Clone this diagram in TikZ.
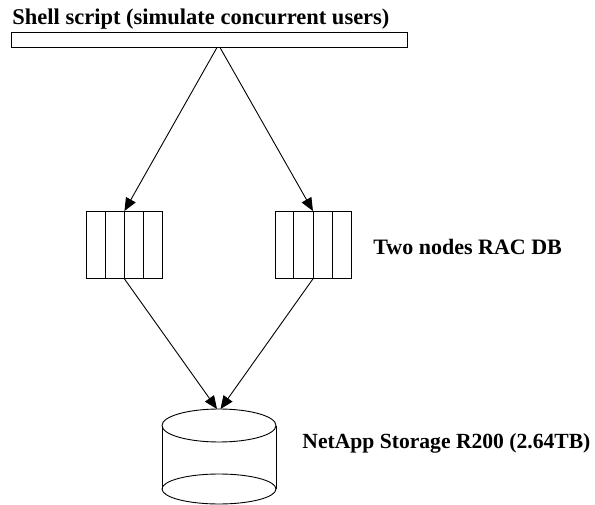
\documentclass[tikz,border=0pt]{standalone}
\usepackage{fontspec}
\setmainfont{Liberation Serif}
\usetikzlibrary{arrows.meta,calc}
\begin{document}
\begin{tikzpicture}[x=1pt,y=-1pt, line width=0.9pt,
  lbl/.style={font=\fontsize{22}{24}\selectfont\bfseries, inner sep=0pt, anchor=base west},
  ttl/.style={font=\fontsize{22.5}{24}\selectfont\bfseries, inner sep=0pt, anchor=base west},
  arr/.style={-{Triangle[length=13pt,width=11pt]}},
  racbox/.style={draw, rectangle, minimum width=76pt, minimum height=67pt, inner sep=0pt, anchor=north west},
  barbox/.style={draw, rectangle, minimum width=396pt, minimum height=15pt, inner sep=0pt, anchor=north west}]
\useasboundingbox (0,0) rectangle (595,505);
% title and bar
\node[ttl] (title) at (12,24.5) {Shell script (simulate concurrent users)};
\node[barbox] (bar) at (11,32.5) {};
\coordinate (s1) at (217,47.5);
\coordinate (s2) at (220,47.5);
% RAC nodes
\node[racbox] (rac1) at (86,211) {};
\node[racbox] (rac2) at (274.5,211) {};
\foreach \n in {rac1,rac2}{
  \foreach \f in {0.25,0.5,0.75}{
    \draw ($(\n.north west)!\f!(\n.north east)$) -- ($(\n.south west)!\f!(\n.south east)$);
  }
}
\node[lbl] (raclbl) at (373,255) {Two nodes RAC DB};
% storage cylinder
\coordinate (c1) at (217,409);
\coordinate (c2) at (220.5,409);
\draw (219,425.5) ellipse [x radius=57, y radius=16.5];
\draw (219,489) ellipse [x radius=57, y radius=15];
\draw (162,425.5) -- (162,489);
\draw (276,425.5) -- (276,489);
\node[lbl, font=\fontsize{21.6}{24}\selectfont\bfseries] (storlbl) at (302,448) {NetApp Storage R200 (2.64TB)};
% connectors
\draw[arr] (s1) -- (rac1.north);
\draw[arr] (s2) -- (rac2.north);
\draw[arr] (rac1.south) -- (c1);
\draw[arr] (rac2.south) -- (c2);
\end{tikzpicture}
\end{document}
